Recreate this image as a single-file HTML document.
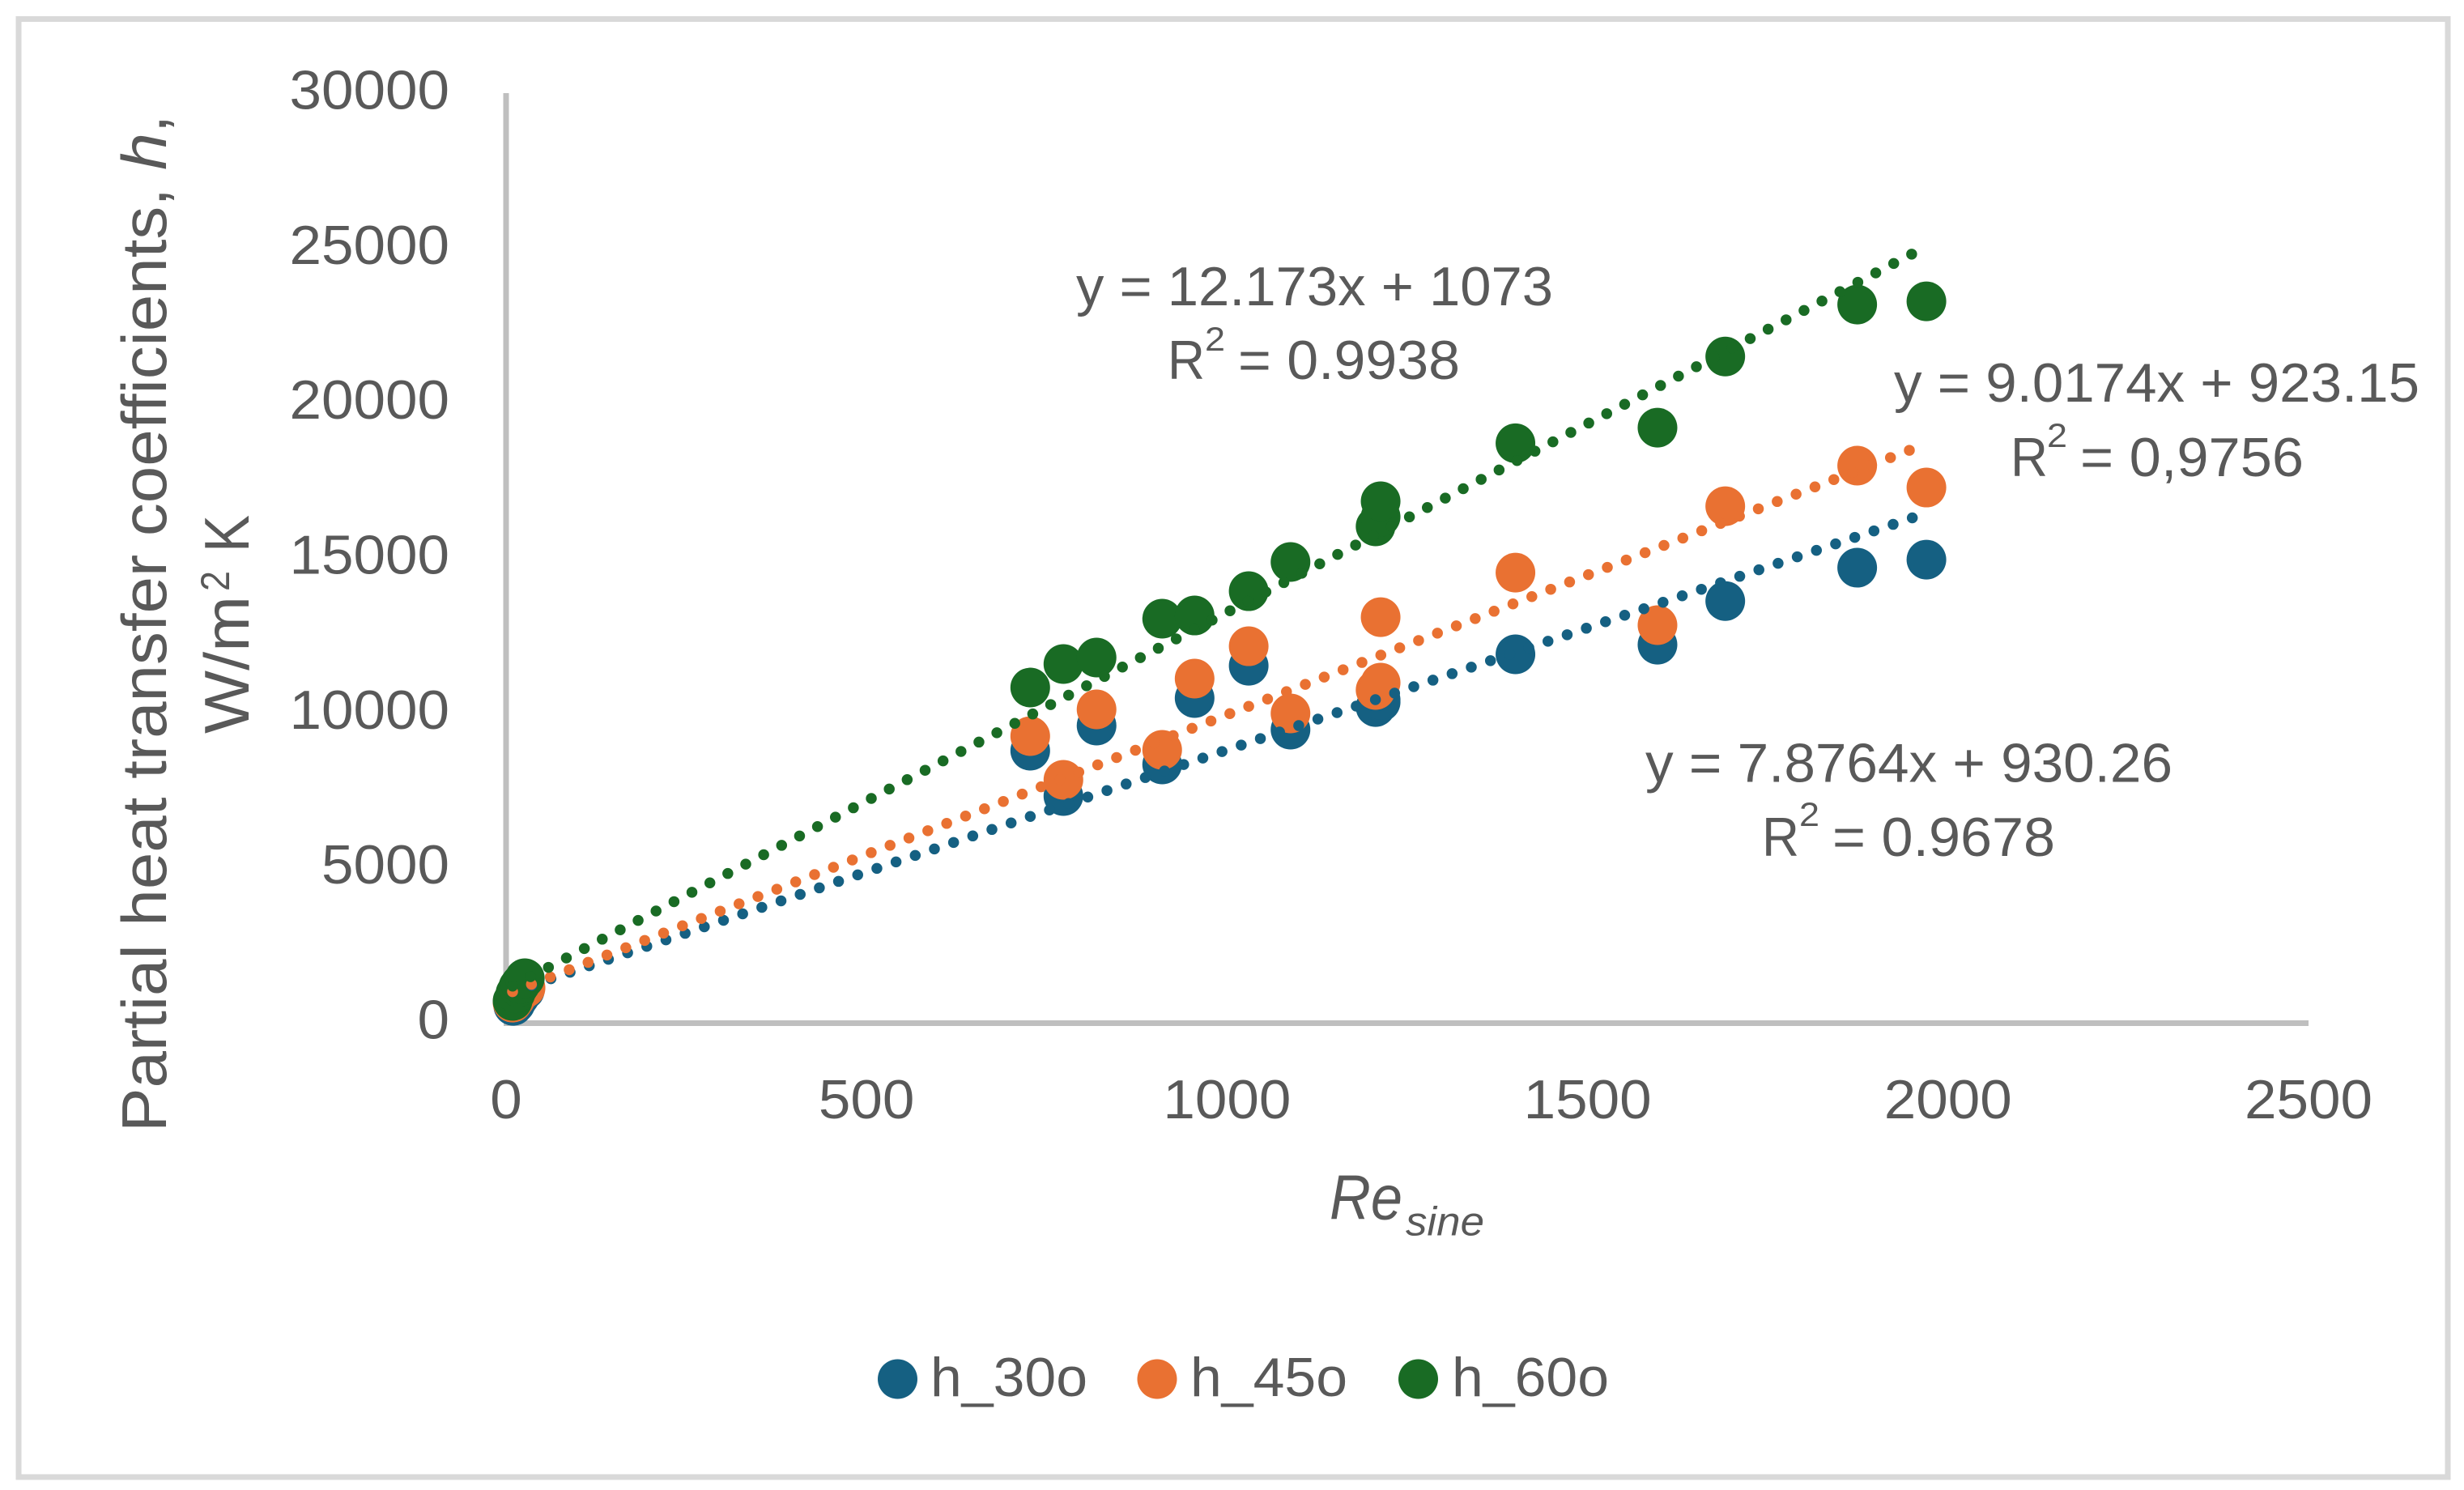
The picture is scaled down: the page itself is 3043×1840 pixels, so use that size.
<!DOCTYPE html>
<html lang="en">
<head>
<meta charset="utf-8">
<title>Partial heat transfer coefficients vs Re sine</title>
<style>
  html, body { margin: 0; padding: 0; background: #ffffff; }
  svg { display: block; }
  text { font-family: "Liberation Sans", sans-serif; fill: #595959; }
</style>
</head>
<body>
<svg id="chart" xmlns="http://www.w3.org/2000/svg" width="3043" height="1840" viewBox="0 0 3043 1840">
  <rect x="0" y="0" width="3043" height="1840" fill="#ffffff"/>
  <rect x="23" y="23.5" width="3000" height="1800.5" fill="none" stroke="#D9D9D9" stroke-width="7"/>
  <line x1="625" y1="115" x2="625" y2="1263" stroke="#BFBFBF" stroke-width="7"/>
  <line x1="622" y1="1263.5" x2="2851" y2="1263.5" stroke="#BFBFBF" stroke-width="7"/>
  <g id="y-ticks"></g>
  <g id="x-ticks"></g>
  <g id="markers"></g>
  <g id="trends"></g>

  <text transform="translate(205,1398) rotate(-90)" font-size="78"><tspan x="0" textLength="1166" lengthAdjust="spacingAndGlyphs">Partial heat transfer coefficients,</tspan> <tspan x="1188" textLength="46" lengthAdjust="spacingAndGlyphs" font-style="italic">h</tspan><tspan x="1234" textLength="22" lengthAdjust="spacingAndGlyphs">,</tspan></text>
  <text transform="translate(307,906) rotate(-90)" font-size="78"><tspan x="0" textLength="170" lengthAdjust="spacingAndGlyphs">W/m</tspan><tspan x="176" dy="-24" font-size="50" textLength="25" lengthAdjust="spacingAndGlyphs">2</tspan> <tspan x="224" dy="24" textLength="46" lengthAdjust="spacingAndGlyphs">K</tspan></text>

  <text font-style="italic" font-size="78" y="1505.5"><tspan x="1642" textLength="90" lengthAdjust="spacingAndGlyphs">Re</tspan><tspan x="1736" dy="20" font-size="50" textLength="97" lengthAdjust="spacingAndGlyphs">sine</tspan></text>

  <text x="1329" y="377" font-size="68" textLength="589" lengthAdjust="spacingAndGlyphs">y = 12.173x + 1073</text>
  <text y="468" font-size="68"><tspan x="1442" textLength="46" lengthAdjust="spacingAndGlyphs">R</tspan><tspan x="1488" dy="-35" font-size="42" textLength="25" lengthAdjust="spacingAndGlyphs">2</tspan> <tspan x="1529" dy="35" textLength="274" lengthAdjust="spacingAndGlyphs">= 0.9938</tspan></text>

  <text x="2339" y="496" font-size="68" textLength="649" lengthAdjust="spacingAndGlyphs">y = 9.0174x + 923.15</text>
  <text y="588" font-size="68"><tspan x="2483" textLength="46" lengthAdjust="spacingAndGlyphs">R</tspan><tspan x="2528" dy="-36" font-size="42" textLength="25" lengthAdjust="spacingAndGlyphs">2</tspan> <tspan x="2569" dy="36" textLength="276" lengthAdjust="spacingAndGlyphs">= 0,9756</tspan></text>

  <text x="2032" y="965.5" font-size="68" textLength="651" lengthAdjust="spacingAndGlyphs">y = 7.8764x + 930.26</text>
  <text y="1057" font-size="68"><tspan x="2176" textLength="46" lengthAdjust="spacingAndGlyphs">R</tspan><tspan x="2222" dy="-37" font-size="42" textLength="25" lengthAdjust="spacingAndGlyphs">2</tspan> <tspan x="2263" dy="37" textLength="275" lengthAdjust="spacingAndGlyphs">= 0.9678</tspan></text>

  <g>
    <g>
      <circle cx="1108.5" cy="1703" r="24.5" fill="#156082"/>
      <text x="1149" y="1724" font-size="68" textLength="194" lengthAdjust="spacingAndGlyphs">h_30o</text>
    </g>
    <g>
      <circle cx="1429" cy="1703" r="24.5" fill="#E97132"/>
      <text x="1470" y="1724" font-size="68" textLength="194" lengthAdjust="spacingAndGlyphs">h_45o</text>
    </g>
    <g>
      <circle cx="1751.5" cy="1703" r="24.5" fill="#196B24"/>
      <text x="1793" y="1724" font-size="68" textLength="194" lengthAdjust="spacingAndGlyphs">h_60o</text>
    </g>
  </g>
</svg>

<script>
const xTickLabels = [0, 500, 1000, 1500, 2000, 2500];
const yTickLabels = [0, 5000, 10000, 15000, 20000, 25000, 30000];

const seriesNames = ['h-30', 'h-45', 'h-60'];

const xValues30 = [10, 13, 16, 19, 26, 727, 773, 819, 910, 955, 1030, 1088, 1206, 1213, 1213, 1400, 1597, 1691, 1874, 1970];
const xValues45 = [9, 13, 16, 20, 27, 727, 773, 819, 910, 955, 1030, 1088, 1206, 1213, 1213, 1400, 1597, 1691, 1874, 1970];
const xValues60 = [9, 13, 17, 20, 26, 727, 773, 819, 910, 955, 1030, 1088, 1206, 1213, 1213, 1400, 1597, 1691, 1874, 1970];

const h30 = [545, 620, 750, 850, 1050, 8780, 7316, 9590, 8335, 10480, 11520, 9460, 10190, 10350, 10420, 11890, 12200, 13610, 14685, 14946];
const h45 = [650, 780, 900, 1000, 1125, 9250, 7839, 10112, 8806, 11105, 12150, 9982, 10740, 10975, 13090, 14525, 12830, 16670, 17978, 17272];
const h60 = [705, 950, 1150, 1254, 1437, 10818, 11576, 11785, 13039, 13143, 13927, 14868, 16018, 16330, 16828, 18700, 19205, 21500, 23177, 23282];

const trendSlopes = [7.8764, 9.0174, 12.173];
const trendIntercepts = [930.26, 923.15, 1073];
const trendStarts = [9, 9, 9];
const trendEnds = [1955, 1952, 1954];

const xAxisLeft = 625, xAxisRight = 2851, xMax = 2500;
const yAxisBottom = 1263, yAxisTop = 115, yMax = 30000;
const seriesColors = ['#156082', '#E97132', '#196B24'];
const SVG_NS = 'http://www.w3.org/2000/svg';

function xScale(v) { return xAxisLeft + (v / xMax) * (xAxisRight - xAxisLeft); }
function yScale(v) { return yAxisBottom - (v / yMax) * (yAxisBottom - yAxisTop); }

const yTicksGroup = document.getElementById('y-ticks');
yTickLabels.forEach(function (v) {
  const t = document.createElementNS(SVG_NS, 'text');
  
  
  t.setAttribute('x', 555);
  t.setAttribute('y', yScale(v) + 19.5);
  t.setAttribute('text-anchor', 'end');
  t.setAttribute('font-size', 68);
  t.setAttribute('textLength', String(v).length * 39.5);
  t.setAttribute('lengthAdjust', 'spacingAndGlyphs');
  t.textContent = v;
  yTicksGroup.appendChild(t);
});

const xTicksGroup = document.getElementById('x-ticks');
xTickLabels.forEach(function (v) {
  const t = document.createElementNS(SVG_NS, 'text');
  
  
  t.setAttribute('x', xScale(v));
  t.setAttribute('y', 1381);
  t.setAttribute('text-anchor', 'middle');
  t.setAttribute('font-size', 68);
  t.setAttribute('textLength', String(v).length * 39.5);
  t.setAttribute('lengthAdjust', 'spacingAndGlyphs');
  t.textContent = v;
  xTicksGroup.appendChild(t);
});

const allX = [xValues30, xValues45, xValues60];
const allY = [h30, h45, h60];

const markersGroup = document.getElementById('markers');
allY.forEach(function (ys, s) {
  ys.forEach(function (v, i) {
    const c = document.createElementNS(SVG_NS, 'circle');
    
    
    c.setAttribute('cx', xScale(allX[s][i]));
    c.setAttribute('cy', yScale(v));
    c.setAttribute('r', 24.5);
    c.setAttribute('fill', seriesColors[s]);
    markersGroup.appendChild(c);
  });
});

const trendsGroup = document.getElementById('trends');
trendSlopes.forEach(function (m, s) {
  const b = trendIntercepts[s];
  const l = document.createElementNS(SVG_NS, 'line');
  
  
  l.setAttribute('x1', xScale(trendStarts[s]));
  l.setAttribute('y1', yScale(m * trendStarts[s] + b));
  l.setAttribute('x2', xScale(trendEnds[s]));
  l.setAttribute('y2', yScale(m * trendEnds[s] + b));
  l.setAttribute('stroke', seriesColors[s]);
  l.setAttribute('stroke-width', 13.5);
  l.setAttribute('stroke-linecap', 'round');
  l.setAttribute('stroke-dasharray', '0 25');
  trendsGroup.appendChild(l);
});
</script>
</body>
</html>
